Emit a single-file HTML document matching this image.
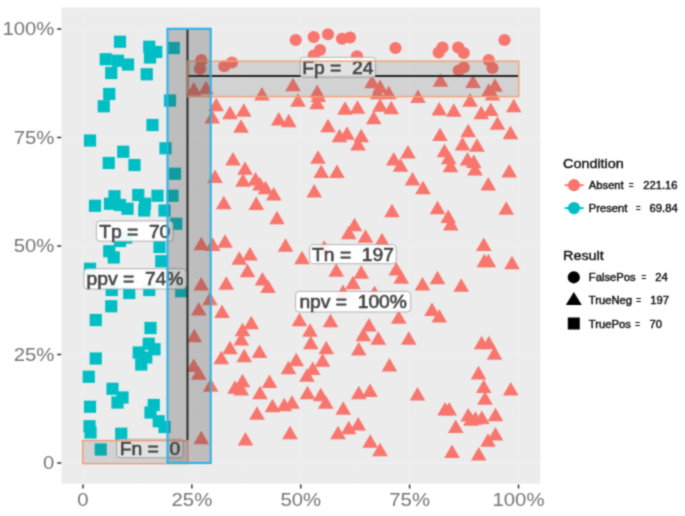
<!DOCTYPE html>
<html><head><meta charset="utf-8"><title>Confusion plot</title>
<style>html,body{margin:0;padding:0;background:#fff;}svg{display:block;}text{font-family:"Liberation Sans",sans-serif;}</style></head><body>
<svg width="685" height="516" viewBox="0 0 685 516">
<defs><filter id="soft" filterUnits="userSpaceOnUse" x="0" y="0" width="685" height="516" color-interpolation-filters="sRGB"><feConvolveMatrix order="3" kernelMatrix="0.04 0.12 0.04 0.12 0.36 0.12 0.04 0.12 0.04" divisor="1" edgeMode="duplicate" preserveAlpha="true"/></filter></defs>
<g filter="url(#soft)">
<rect x="0" y="0" width="685" height="516" fill="#ffffff"/>
<rect x="61.5" y="7.5" width="478.70000000000005" height="476.1" fill="#ECECEC"/>
<g stroke="#ffffff" stroke-opacity="0.22">
<line x1="137.44" x2="137.44" y1="7.5" y2="483.6" stroke-width="0.4"/>
<line y1="408.75" y2="408.75" x1="61.5" x2="540.2" stroke-width="0.4"/>
<line x1="246.31" x2="246.31" y1="7.5" y2="483.6" stroke-width="0.4"/>
<line y1="300.25" y2="300.25" x1="61.5" x2="540.2" stroke-width="0.4"/>
<line x1="355.19" x2="355.19" y1="7.5" y2="483.6" stroke-width="0.4"/>
<line y1="191.75" y2="191.75" x1="61.5" x2="540.2" stroke-width="0.4"/>
<line x1="464.06" x2="464.06" y1="7.5" y2="483.6" stroke-width="0.4"/>
<line y1="83.25" y2="83.25" x1="61.5" x2="540.2" stroke-width="0.4"/>
<line x1="83.00" x2="83.00" y1="7.5" y2="483.6" stroke-width="1"/>
<line y1="463.00" y2="463.00" x1="61.5" x2="540.2" stroke-width="1"/>
<line x1="191.88" x2="191.88" y1="7.5" y2="483.6" stroke-width="1"/>
<line y1="354.50" y2="354.50" x1="61.5" x2="540.2" stroke-width="1"/>
<line x1="300.75" x2="300.75" y1="7.5" y2="483.6" stroke-width="1"/>
<line y1="246.00" y2="246.00" x1="61.5" x2="540.2" stroke-width="1"/>
<line x1="409.62" x2="409.62" y1="7.5" y2="483.6" stroke-width="1"/>
<line y1="137.50" y2="137.50" x1="61.5" x2="540.2" stroke-width="1"/>
<line x1="518.50" x2="518.50" y1="7.5" y2="483.6" stroke-width="1"/>
<line y1="29.00" y2="29.00" x1="61.5" x2="540.2" stroke-width="1"/>
</g>
<g fill="#00BFC4">
<rect x="113.90" y="35.65" width="12.2" height="12.2"/>
<rect x="143.15" y="40.65" width="12.2" height="12.2"/>
<rect x="150.15" y="45.90" width="12.2" height="12.2"/>
<rect x="143.90" y="51.40" width="12.2" height="12.2"/>
<rect x="167.65" y="41.90" width="12.2" height="12.2"/>
<rect x="99.65" y="53.15" width="12.2" height="12.2"/>
<rect x="111.90" y="54.65" width="12.2" height="12.2"/>
<rect x="121.90" y="58.40" width="12.2" height="12.2"/>
<rect x="105.15" y="66.90" width="12.2" height="12.2"/>
<rect x="140.65" y="68.15" width="12.2" height="12.2"/>
<rect x="103.15" y="87.90" width="12.2" height="12.2"/>
<rect x="97.65" y="100.15" width="12.2" height="12.2"/>
<rect x="163.90" y="94.40" width="12.2" height="12.2"/>
<rect x="146.40" y="118.90" width="12.2" height="12.2"/>
<rect x="83.90" y="134.40" width="12.2" height="12.2"/>
<rect x="117.15" y="145.65" width="12.2" height="12.2"/>
<rect x="159.40" y="142.15" width="12.2" height="12.2"/>
<rect x="102.65" y="156.90" width="12.2" height="12.2"/>
<rect x="128.40" y="158.90" width="12.2" height="12.2"/>
<rect x="168.90" y="167.65" width="12.2" height="12.2"/>
<rect x="108.40" y="190.15" width="12.2" height="12.2"/>
<rect x="132.15" y="188.90" width="12.2" height="12.2"/>
<rect x="151.40" y="189.65" width="12.2" height="12.2"/>
<rect x="166.40" y="189.65" width="12.2" height="12.2"/>
<rect x="88.90" y="199.65" width="12.2" height="12.2"/>
<rect x="103.90" y="197.65" width="12.2" height="12.2"/>
<rect x="113.90" y="198.90" width="12.2" height="12.2"/>
<rect x="121.40" y="202.65" width="12.2" height="12.2"/>
<rect x="138.90" y="197.65" width="12.2" height="12.2"/>
<rect x="138.15" y="204.40" width="12.2" height="12.2"/>
<rect x="158.40" y="204.40" width="12.2" height="12.2"/>
<rect x="170.15" y="217.65" width="12.2" height="12.2"/>
<rect x="113.90" y="234.90" width="12.2" height="12.2"/>
<rect x="120.10" y="231.50" width="12.2" height="12.2"/>
<rect x="153.40" y="240.90" width="12.2" height="12.2"/>
<rect x="103.15" y="245.15" width="12.2" height="12.2"/>
<rect x="107.65" y="251.40" width="12.2" height="12.2"/>
<rect x="155.15" y="255.15" width="12.2" height="12.2"/>
<rect x="83.90" y="262.70" width="12.2" height="12.2"/>
<rect x="105.65" y="283.90" width="12.2" height="12.2"/>
<rect x="123.15" y="286.90" width="12.2" height="12.2"/>
<rect x="143.15" y="283.90" width="12.2" height="12.2"/>
<rect x="175.15" y="285.15" width="12.2" height="12.2"/>
<rect x="105.15" y="300.15" width="12.2" height="12.2"/>
<rect x="89.65" y="313.90" width="12.2" height="12.2"/>
<rect x="144.40" y="321.90" width="12.2" height="12.2"/>
<rect x="142.65" y="337.65" width="12.2" height="12.2"/>
<rect x="148.40" y="343.15" width="12.2" height="12.2"/>
<rect x="132.65" y="346.40" width="12.2" height="12.2"/>
<rect x="140.15" y="351.40" width="12.2" height="12.2"/>
<rect x="89.65" y="352.40" width="12.2" height="12.2"/>
<rect x="135.15" y="358.40" width="12.2" height="12.2"/>
<rect x="82.65" y="370.65" width="12.2" height="12.2"/>
<rect x="106.40" y="382.65" width="12.2" height="12.2"/>
<rect x="116.40" y="391.40" width="12.2" height="12.2"/>
<rect x="111.40" y="396.40" width="12.2" height="12.2"/>
<rect x="83.90" y="400.65" width="12.2" height="12.2"/>
<rect x="147.65" y="398.90" width="12.2" height="12.2"/>
<rect x="144.40" y="406.40" width="12.2" height="12.2"/>
<rect x="152.65" y="415.15" width="12.2" height="12.2"/>
<rect x="158.40" y="420.90" width="12.2" height="12.2"/>
<rect x="83.40" y="420.15" width="12.2" height="12.2"/>
<rect x="84.40" y="426.40" width="12.2" height="12.2"/>
<rect x="115.15" y="427.65" width="12.2" height="12.2"/>
<rect x="94.65" y="443.40" width="12.2" height="12.2"/>
</g>
<g fill="#F8766D">
<circle cx="201.30" cy="60.20" r="6.1"/>
<circle cx="200.00" cy="68.80" r="6.1"/>
<circle cx="232.00" cy="62.50" r="6.1"/>
<circle cx="224.25" cy="66.25" r="6.1"/>
<circle cx="295.75" cy="40.00" r="6.1"/>
<circle cx="313.75" cy="37.00" r="6.1"/>
<circle cx="328.00" cy="34.25" r="6.1"/>
<circle cx="342.00" cy="38.75" r="6.1"/>
<circle cx="350.00" cy="37.50" r="6.1"/>
<circle cx="320.00" cy="50.00" r="6.1"/>
<circle cx="313.75" cy="55.50" r="6.1"/>
<circle cx="357.00" cy="56.25" r="6.1"/>
<circle cx="395.50" cy="48.00" r="6.1"/>
<circle cx="504.50" cy="40.00" r="6.1"/>
<circle cx="442.50" cy="47.50" r="6.1"/>
<circle cx="438.75" cy="52.50" r="6.1"/>
<circle cx="458.25" cy="47.50" r="6.1"/>
<circle cx="463.75" cy="53.00" r="6.1"/>
<circle cx="463.75" cy="67.50" r="6.1"/>
<circle cx="458.75" cy="70.50" r="6.1"/>
<circle cx="488.75" cy="60.00" r="6.1"/>
<circle cx="492.50" cy="68.00" r="6.1"/>
<polygon points="193.75,81.95 201.55,95.55 185.95,95.55"/>
<polygon points="206.00,80.70 213.80,94.30 198.20,94.30"/>
<polygon points="216.25,97.70 224.05,111.30 208.45,111.30"/>
<polygon points="230.00,105.70 237.80,119.30 222.20,119.30"/>
<polygon points="212.30,110.00 220.10,123.60 204.50,123.60"/>
<polygon points="293.00,77.70 300.80,91.30 285.20,91.30"/>
<polygon points="262.00,86.95 269.80,100.55 254.20,100.55"/>
<polygon points="317.20,84.40 325.00,98.00 309.40,98.00"/>
<polygon points="318.30,88.50 326.10,102.10 310.50,102.10"/>
<polygon points="298.00,93.20 305.80,106.80 290.20,106.80"/>
<polygon points="317.00,95.70 324.80,109.30 309.20,109.30"/>
<polygon points="243.75,103.20 251.55,116.80 235.95,116.80"/>
<polygon points="278.75,111.95 286.55,125.55 270.95,125.55"/>
<polygon points="288.75,113.70 296.55,127.30 280.95,127.30"/>
<polygon points="345.00,101.20 352.80,114.80 337.20,114.80"/>
<polygon points="357.50,100.20 365.30,113.80 349.70,113.80"/>
<polygon points="241.00,119.20 248.80,132.80 233.20,132.80"/>
<polygon points="328.00,118.70 335.80,132.30 320.20,132.30"/>
<polygon points="372.00,74.70 379.80,88.30 364.20,88.30"/>
<polygon points="373.75,110.70 381.55,124.30 365.95,124.30"/>
<polygon points="440.50,73.20 448.30,86.80 432.70,86.80"/>
<polygon points="473.00,74.45 480.80,88.05 465.20,88.05"/>
<polygon points="495.00,78.20 502.80,91.80 487.20,91.80"/>
<polygon points="488.75,83.20 496.55,96.80 480.95,96.80"/>
<polygon points="492.50,86.95 500.30,100.55 484.70,100.55"/>
<polygon points="380.00,79.45 387.80,93.05 372.20,93.05"/>
<polygon points="388.75,85.70 396.55,99.30 380.95,99.30"/>
<polygon points="377.50,85.70 385.30,99.30 369.70,99.30"/>
<polygon points="418.00,89.45 425.80,103.05 410.20,103.05"/>
<polygon points="470.00,93.20 477.80,106.80 462.20,106.80"/>
<polygon points="380.00,98.20 387.80,111.80 372.20,111.80"/>
<polygon points="391.25,100.70 399.05,114.30 383.45,114.30"/>
<polygon points="439.25,101.95 447.05,115.55 431.45,115.55"/>
<polygon points="453.75,103.20 461.55,116.80 445.95,116.80"/>
<polygon points="481.25,105.70 489.05,119.30 473.45,119.30"/>
<polygon points="490.75,102.45 498.55,116.05 482.95,116.05"/>
<polygon points="513.75,98.70 521.55,112.30 505.95,112.30"/>
<polygon points="497.50,116.20 505.30,129.80 489.70,129.80"/>
<polygon points="468.25,123.70 476.05,137.30 460.45,137.30"/>
<polygon points="440.00,127.45 447.80,141.05 432.20,141.05"/>
<polygon points="510.50,125.70 518.30,139.30 502.70,139.30"/>
<polygon points="215.00,169.45 222.80,183.05 207.20,183.05"/>
<polygon points="223.75,195.70 231.55,209.30 215.95,209.30"/>
<polygon points="201.25,236.70 209.05,250.30 193.45,250.30"/>
<polygon points="212.75,237.45 220.55,251.05 204.95,251.05"/>
<polygon points="225.00,234.20 232.80,247.80 217.20,247.80"/>
<polygon points="339.50,128.70 347.30,142.30 331.70,142.30"/>
<polygon points="347.00,126.20 354.80,139.80 339.20,139.80"/>
<polygon points="361.25,128.70 369.05,142.30 353.45,142.30"/>
<polygon points="358.00,136.95 365.80,150.55 350.20,150.55"/>
<polygon points="233.00,151.95 240.80,165.55 225.20,165.55"/>
<polygon points="318.00,150.20 325.80,163.80 310.20,163.80"/>
<polygon points="245.00,161.20 252.80,174.80 237.20,174.80"/>
<polygon points="321.25,164.45 329.05,178.05 313.45,178.05"/>
<polygon points="337.00,164.45 344.80,178.05 329.20,178.05"/>
<polygon points="243.00,173.20 250.80,186.80 235.20,186.80"/>
<polygon points="255.50,171.95 263.30,185.55 247.70,185.55"/>
<polygon points="260.00,176.95 267.80,190.55 252.20,190.55"/>
<polygon points="265.50,180.70 273.30,194.30 257.70,194.30"/>
<polygon points="273.75,186.95 281.55,200.55 265.95,200.55"/>
<polygon points="314.25,183.95 322.05,197.55 306.45,197.55"/>
<polygon points="256.25,196.45 264.05,210.05 248.45,210.05"/>
<polygon points="277.00,210.70 284.80,224.30 269.20,224.30"/>
<polygon points="354.50,217.70 362.30,231.30 346.70,231.30"/>
<polygon points="348.75,225.70 356.55,239.30 340.95,239.30"/>
<polygon points="365.50,229.20 373.30,242.80 357.70,242.80"/>
<polygon points="285.50,238.20 293.30,251.80 277.70,251.80"/>
<polygon points="324.25,240.20 332.05,253.80 316.45,253.80"/>
<polygon points="408.00,144.95 415.80,158.55 400.20,158.55"/>
<polygon points="462.50,136.95 470.30,150.55 454.70,150.55"/>
<polygon points="477.00,138.20 484.80,151.80 469.20,151.80"/>
<polygon points="444.50,143.70 452.30,157.30 436.70,157.30"/>
<polygon points="448.75,150.70 456.55,164.30 440.95,164.30"/>
<polygon points="450.50,158.70 458.30,172.30 442.70,172.30"/>
<polygon points="393.75,151.95 401.55,165.55 385.95,165.55"/>
<polygon points="400.50,158.20 408.30,171.80 392.70,171.80"/>
<polygon points="467.50,151.95 475.30,165.55 459.70,165.55"/>
<polygon points="473.75,154.45 481.55,168.05 465.95,168.05"/>
<polygon points="475.00,161.95 482.80,175.55 467.20,175.55"/>
<polygon points="509.25,163.95 517.05,177.55 501.45,177.55"/>
<polygon points="412.50,171.95 420.30,185.55 404.70,185.55"/>
<polygon points="423.00,180.70 430.80,194.30 415.20,194.30"/>
<polygon points="488.25,176.95 496.05,190.55 480.45,190.55"/>
<polygon points="392.00,203.70 399.80,217.30 384.20,217.30"/>
<polygon points="437.50,200.70 445.30,214.30 429.70,214.30"/>
<polygon points="448.25,209.45 456.05,223.05 440.45,223.05"/>
<polygon points="450.75,216.95 458.55,230.55 442.95,230.55"/>
<polygon points="506.25,201.20 514.05,214.80 498.45,214.80"/>
<polygon points="382.00,232.70 389.80,246.30 374.20,246.30"/>
<polygon points="483.75,237.45 491.55,251.05 475.95,251.05"/>
<polygon points="201.25,276.95 209.05,290.55 193.45,290.55"/>
<polygon points="226.25,276.20 234.05,289.80 218.45,289.80"/>
<polygon points="210.00,291.70 217.80,305.30 202.20,305.30"/>
<polygon points="198.75,301.95 206.55,315.55 190.95,315.55"/>
<polygon points="222.00,304.45 229.80,318.05 214.20,318.05"/>
<polygon points="194.25,328.70 202.05,342.30 186.45,342.30"/>
<polygon points="221.25,350.70 229.05,364.30 213.45,364.30"/>
<polygon points="230.00,340.70 237.80,354.30 222.20,354.30"/>
<polygon points="193.75,358.45 201.55,372.05 185.95,372.05"/>
<polygon points="250.00,246.95 257.80,260.55 242.20,260.55"/>
<polygon points="239.25,251.20 247.05,264.80 231.45,264.80"/>
<polygon points="302.00,250.70 309.80,264.30 294.20,264.30"/>
<polygon points="247.50,263.70 255.30,277.30 239.70,277.30"/>
<polygon points="336.25,263.20 344.05,276.80 328.45,276.80"/>
<polygon points="361.25,265.20 369.05,278.80 353.45,278.80"/>
<polygon points="262.50,271.95 270.30,285.55 254.70,285.55"/>
<polygon points="268.00,279.45 275.80,293.05 260.20,293.05"/>
<polygon points="353.00,275.70 360.80,289.30 345.20,289.30"/>
<polygon points="343.00,284.50 350.80,298.10 335.20,298.10"/>
<polygon points="251.25,315.70 259.05,329.30 243.45,329.30"/>
<polygon points="242.50,322.70 250.30,336.30 234.70,336.30"/>
<polygon points="241.25,331.95 249.05,345.55 233.45,345.55"/>
<polygon points="299.50,312.70 307.30,326.30 291.70,326.30"/>
<polygon points="330.50,313.70 338.30,327.30 322.70,327.30"/>
<polygon points="310.00,323.20 317.80,336.80 302.20,336.80"/>
<polygon points="310.75,335.70 318.55,349.30 302.95,349.30"/>
<polygon points="326.25,340.70 334.05,354.30 318.45,354.30"/>
<polygon points="369.00,317.95 376.80,331.55 361.20,331.55"/>
<polygon points="363.30,327.70 371.10,341.30 355.50,341.30"/>
<polygon points="358.75,341.95 366.55,355.55 350.95,355.55"/>
<polygon points="259.50,344.45 267.30,358.05 251.70,358.05"/>
<polygon points="244.25,348.70 252.05,362.30 236.45,362.30"/>
<polygon points="296.25,352.70 304.05,366.30 288.45,366.30"/>
<polygon points="322.50,353.20 330.30,366.80 314.70,366.80"/>
<polygon points="288.50,360.70 296.30,374.30 280.70,374.30"/>
<polygon points="312.75,361.45 320.55,375.05 304.95,375.05"/>
<polygon points="484.40,253.70 492.20,267.30 476.60,267.30"/>
<polygon points="488.40,253.70 496.20,267.30 480.60,267.30"/>
<polygon points="512.00,255.70 519.80,269.30 504.20,269.30"/>
<polygon points="396.25,261.95 404.05,275.55 388.45,275.55"/>
<polygon points="401.25,270.20 409.05,283.80 393.45,283.80"/>
<polygon points="422.50,276.95 430.30,290.55 414.70,290.55"/>
<polygon points="437.50,270.70 445.30,284.30 429.70,284.30"/>
<polygon points="461.25,278.20 469.05,291.80 453.45,291.80"/>
<polygon points="374.50,285.70 382.30,299.30 366.70,299.30"/>
<polygon points="432.00,302.45 439.80,316.05 424.20,316.05"/>
<polygon points="439.25,308.95 447.05,322.55 431.45,322.55"/>
<polygon points="398.75,310.20 406.55,323.80 390.95,323.80"/>
<polygon points="378.25,331.20 386.05,344.80 370.45,344.80"/>
<polygon points="408.75,331.20 416.55,344.80 400.95,344.80"/>
<polygon points="481.60,335.70 489.40,349.30 473.80,349.30"/>
<polygon points="488.90,335.70 496.70,349.30 481.10,349.30"/>
<polygon points="494.50,346.20 502.30,359.80 486.70,359.80"/>
<polygon points="389.50,357.95 397.30,371.55 381.70,371.55"/>
<polygon points="478.50,365.80 486.30,379.40 470.70,379.40"/>
<polygon points="198.75,366.20 206.55,379.80 190.95,379.80"/>
<polygon points="210.75,378.20 218.55,391.80 202.95,391.80"/>
<polygon points="201.25,430.70 209.05,444.30 193.45,444.30"/>
<polygon points="242.50,373.70 250.30,387.30 234.70,387.30"/>
<polygon points="269.50,374.45 277.30,388.05 261.70,388.05"/>
<polygon points="235.00,380.20 242.80,393.80 227.20,393.80"/>
<polygon points="241.25,381.95 249.05,395.55 233.45,395.55"/>
<polygon points="260.00,385.70 267.80,399.30 252.20,399.30"/>
<polygon points="307.50,385.70 315.30,399.30 299.70,399.30"/>
<polygon points="320.75,387.70 328.55,401.30 312.95,401.30"/>
<polygon points="325.75,395.20 333.55,408.80 317.95,408.80"/>
<polygon points="358.75,385.70 366.55,399.30 350.95,399.30"/>
<polygon points="370.00,383.45 377.80,397.05 362.20,397.05"/>
<polygon points="272.50,398.70 280.30,412.30 264.70,412.30"/>
<polygon points="284.25,397.70 292.05,411.30 276.45,411.30"/>
<polygon points="292.00,395.20 299.80,408.80 284.20,408.80"/>
<polygon points="343.25,401.20 351.05,414.80 335.45,414.80"/>
<polygon points="257.00,406.20 264.80,419.80 249.20,419.80"/>
<polygon points="358.25,416.95 366.05,430.55 350.45,430.55"/>
<polygon points="348.75,420.70 356.55,434.30 340.95,434.30"/>
<polygon points="338.00,425.70 345.80,439.30 330.20,439.30"/>
<polygon points="290.00,425.70 297.80,439.30 282.20,439.30"/>
<polygon points="245.50,431.95 253.30,445.55 237.70,445.55"/>
<polygon points="370.25,434.20 378.05,447.80 362.45,447.80"/>
<polygon points="307.00,368.20 314.80,381.80 299.20,381.80"/>
<polygon points="417.50,386.95 425.30,400.55 409.70,400.55"/>
<polygon points="483.75,379.45 491.55,393.05 475.95,393.05"/>
<polygon points="485.00,391.20 492.80,404.80 477.20,404.80"/>
<polygon points="510.75,381.95 518.55,395.55 502.95,395.55"/>
<polygon points="445.00,401.95 452.80,415.55 437.20,415.55"/>
<polygon points="449.20,401.95 457.00,415.55 441.40,415.55"/>
<polygon points="468.20,408.00 476.00,421.60 460.40,421.60"/>
<polygon points="471.00,412.20 478.80,425.80 463.20,425.80"/>
<polygon points="475.40,411.20 483.20,424.80 467.60,424.80"/>
<polygon points="481.80,410.50 489.60,424.10 474.00,424.10"/>
<polygon points="495.50,407.70 503.30,421.30 487.70,421.30"/>
<polygon points="455.75,419.45 463.55,433.05 447.95,433.05"/>
<polygon points="495.50,426.95 503.30,440.55 487.70,440.55"/>
<polygon points="488.00,433.20 495.80,446.80 480.20,446.80"/>
<polygon points="380.00,442.70 387.80,456.30 372.20,456.30"/>
<polygon points="452.00,444.45 459.80,458.05 444.20,458.05"/>
<polygon points="478.75,446.95 486.55,460.55 470.95,460.55"/>
</g>
<line x1="187.5" x2="187.5" y1="28.8" y2="440" stroke="#222" stroke-width="2"/>
<line x1="187.5" x2="518.3" y1="76.1" y2="76.1" stroke="#222" stroke-width="2"/>
<rect x="96.4" y="220.9" width="76.70" height="20.30" rx="3.5" ry="3.5" fill="#ffffff" fill-opacity="0.92" stroke="#a2a2a2" stroke-width="0.8"/>
<text transform="translate(134.75,237.53) scale(1.07,1)" x="0" y="0" font-size="18.0" font-weight="normal" fill="#454545" stroke="#454545" stroke-width="0.6" text-anchor="middle" xml:space="preserve" style="white-space:pre">Tp =  70</text>
<rect x="83.8" y="268.7" width="102.40" height="20.30" rx="3.5" ry="3.5" fill="#ffffff" fill-opacity="0.92" stroke="#a2a2a2" stroke-width="0.8"/>
<text transform="translate(135.00,285.33) scale(1.07,1)" x="0" y="0" font-size="18.0" font-weight="normal" fill="#454545" stroke="#454545" stroke-width="0.6" text-anchor="middle" xml:space="preserve" style="white-space:pre">ppv =  74%</text>
<rect x="116.6" y="439.2" width="66.70" height="18.60" rx="3.5" ry="3.5" fill="#ffffff" fill-opacity="0.92" stroke="#a2a2a2" stroke-width="0.8"/>
<text transform="translate(149.95,454.98) scale(1.07,1)" x="0" y="0" font-size="18.0" font-weight="normal" fill="#454545" stroke="#454545" stroke-width="0.6" text-anchor="middle" xml:space="preserve" style="white-space:pre">Fn =  0</text>
<rect x="300.1" y="57.3" width="75.50" height="20.10" rx="3.5" ry="3.5" fill="#ffffff" fill-opacity="0.92" stroke="#a2a2a2" stroke-width="0.8"/>
<text transform="translate(337.85,73.83) scale(1.07,1)" x="0" y="0" font-size="18.0" font-weight="normal" fill="#454545" stroke="#454545" stroke-width="0.6" text-anchor="middle" xml:space="preserve" style="white-space:pre">Fp =  24</text>
<rect x="309.7" y="244.6" width="86.60" height="19.10" rx="3.5" ry="3.5" fill="#ffffff" fill-opacity="0.92" stroke="#a2a2a2" stroke-width="0.8"/>
<text transform="translate(353.00,260.63) scale(1.07,1)" x="0" y="0" font-size="18.0" font-weight="normal" fill="#454545" stroke="#454545" stroke-width="0.6" text-anchor="middle" xml:space="preserve" style="white-space:pre">Tn =  197</text>
<rect x="295.6" y="291.4" width="115.10" height="20.60" rx="3.5" ry="3.5" fill="#ffffff" fill-opacity="0.92" stroke="#a2a2a2" stroke-width="0.8"/>
<text transform="translate(353.15,308.18) scale(1.07,1)" x="0" y="0" font-size="18.0" font-weight="normal" fill="#454545" stroke="#454545" stroke-width="0.6" text-anchor="middle" xml:space="preserve" style="white-space:pre">npv =  100%</text>
<rect x="82.7" y="440.6" width="105" height="23" fill="#404040" fill-opacity="0.15" stroke="#F09A76" stroke-width="1.4"/>
<rect x="187.5" y="61.2" width="331.2" height="35.4" fill="#404040" fill-opacity="0.15" stroke="#F2A078" stroke-width="1.4"/>
<rect x="167.5" y="28.8" width="43.2" height="434.2" fill="#404040" fill-opacity="0.27" stroke="#30B2E6" stroke-width="2.1"/>
<g stroke="#333" stroke-width="1.5">
<line x1="83.00" x2="83.00" y1="484.6" y2="488.5"/>
<line y1="463.00" y2="463.00" x1="57.2" x2="61.2"/>
<line x1="191.88" x2="191.88" y1="484.6" y2="488.5"/>
<line y1="354.50" y2="354.50" x1="57.2" x2="61.2"/>
<line x1="300.75" x2="300.75" y1="484.6" y2="488.5"/>
<line y1="246.00" y2="246.00" x1="57.2" x2="61.2"/>
<line x1="409.62" x2="409.62" y1="484.6" y2="488.5"/>
<line y1="137.50" y2="137.50" x1="57.2" x2="61.2"/>
<line x1="518.50" x2="518.50" y1="484.6" y2="488.5"/>
<line y1="29.00" y2="29.00" x1="57.2" x2="61.2"/>
</g>
<g font-size="19" fill="#767676">
<text transform="translate(83.00,506) scale(1.07,1)" x="0" y="0" text-anchor="middle">0</text>
<text transform="translate(54.4,469.40) scale(1.07,1)" x="0" y="0" text-anchor="end">0</text>
<text transform="translate(191.88,506) scale(1.07,1)" x="0" y="0" text-anchor="middle">25%</text>
<text transform="translate(54.4,360.90) scale(1.07,1)" x="0" y="0" text-anchor="end">25%</text>
<text transform="translate(300.75,506) scale(1.07,1)" x="0" y="0" text-anchor="middle">50%</text>
<text transform="translate(54.4,252.40) scale(1.07,1)" x="0" y="0" text-anchor="end">50%</text>
<text transform="translate(409.62,506) scale(1.07,1)" x="0" y="0" text-anchor="middle">75%</text>
<text transform="translate(54.4,143.90) scale(1.07,1)" x="0" y="0" text-anchor="end">75%</text>
<text transform="translate(518.50,506) scale(1.07,1)" x="0" y="0" text-anchor="middle">100%</text>
<text transform="translate(54.4,35.40) scale(1.07,1)" x="0" y="0" text-anchor="end">100%</text>
</g>
<g fill="#111" stroke="#111" stroke-width="0.4">
<text transform="translate(563,168.2) scale(1.075,1)" x="0" y="0" font-size="13.4">Condition</text>
<text transform="translate(563,260) scale(1.075,1)" x="0" y="0" font-size="13.4">Result</text>
</g>
<line x1="564.7" x2="583.6" y1="185.2" y2="185.2" stroke="#F8766D" stroke-width="2"/>
<circle cx="574" cy="185.2" r="6.1" fill="#F8766D"/>
<line x1="564.7" x2="583.6" y1="208.1" y2="208.1" stroke="#00BFC4" stroke-width="2"/>
<circle cx="574" cy="208.1" r="6.1" fill="#00BFC4"/>
<circle cx="573.8" cy="277.3" r="6.1" fill="#000"/>
<polygon points="573.8,292 581.8,305 565.8,305" fill="#000"/>
<rect x="567.8" y="317.5" width="12" height="12" fill="#000"/>
<g fill="#111" stroke="#111" stroke-width="0.4">
<text transform="translate(588.8,189.0) scale(1.1,1)" x="0" y="0" font-size="10.2">Absent</text>
<text transform="translate(628.8,189.0) scale(0.8,1)" x="0" y="0" font-size="10.2">=</text>
<text transform="translate(643.2,189.0) scale(1.1,1)" x="0" y="0" font-size="10.2">221.16</text>
<text transform="translate(588.8,212.0) scale(1.1,1)" x="0" y="0" font-size="10.2">Present</text>
<text transform="translate(635.8,212.0) scale(0.8,1)" x="0" y="0" font-size="10.2">=</text>
<text transform="translate(649.6,212.0) scale(1.1,1)" x="0" y="0" font-size="10.2">69.84</text>
<text transform="translate(588.8,281.4) scale(1.1,1)" x="0" y="0" font-size="10.2">FalsePos</text>
<text transform="translate(641.5,281.4) scale(0.8,1)" x="0" y="0" font-size="10.2">=</text>
<text transform="translate(655.2,281.4) scale(1.1,1)" x="0" y="0" font-size="10.2">24</text>
<text transform="translate(588.8,304.4) scale(1.1,1)" x="0" y="0" font-size="10.2">TrueNeg</text>
<text transform="translate(636.2,304.4) scale(0.8,1)" x="0" y="0" font-size="10.2">=</text>
<text transform="translate(650.2,304.4) scale(1.1,1)" x="0" y="0" font-size="10.2">197</text>
<text transform="translate(588.8,327.5) scale(1.1,1)" x="0" y="0" font-size="10.2">TruePos</text>
<text transform="translate(635.3,327.5) scale(0.8,1)" x="0" y="0" font-size="10.2">=</text>
<text transform="translate(649.4,327.5) scale(1.1,1)" x="0" y="0" font-size="10.2">70</text>
</g>
</g>
</svg></body></html>
